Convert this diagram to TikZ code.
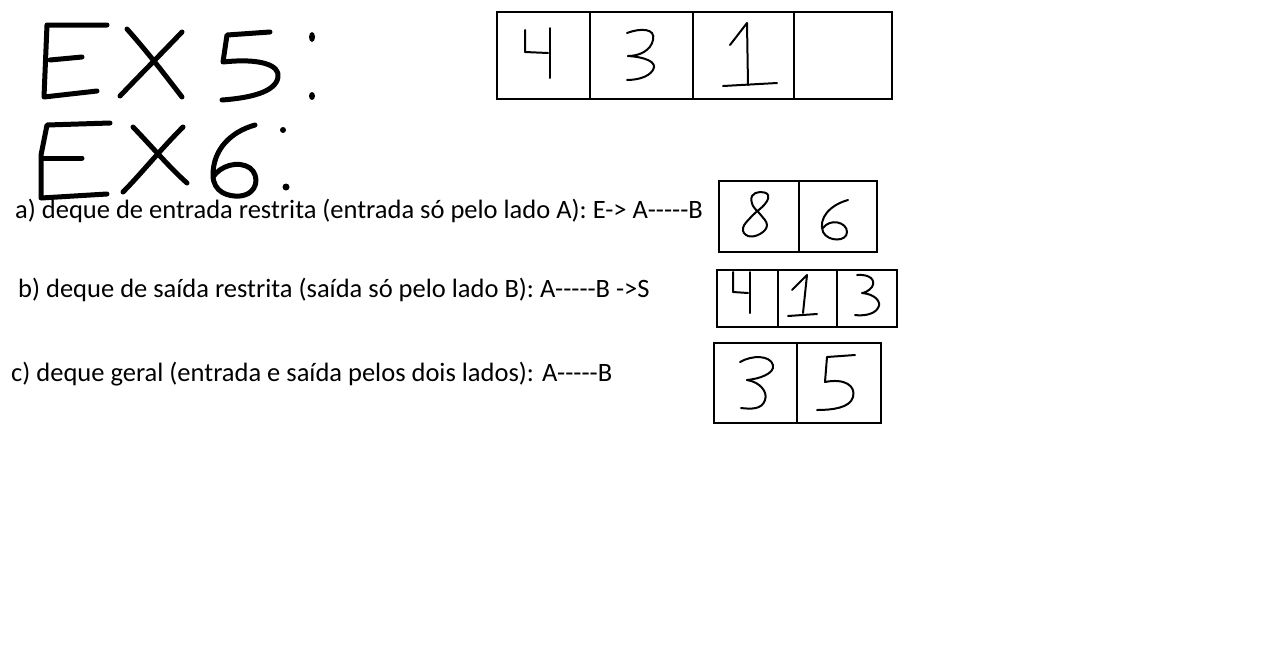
\documentclass[tikz,border=0pt]{standalone}
\usepackage{fontspec}
\setmainfont{Carlito}
\newcommand{\fivedash}{-{}-{}-{}-{}-}
\begin{document}
\begin{tikzpicture}[x=1pt,y=-1pt,
  cell/.style={draw=black,line width=2pt},
  hand/.style={draw=black,line width=2pt,line cap=round,line join=round},
  thick hand/.style={draw=black,line width=5pt,line cap=round,line join=round},
  label/.style={anchor=base west,inner sep=0pt,font=\fontsize{26.5pt}{30pt}\selectfont}]
\useasboundingbox[fill=white] (0,0) rectangle (1280,657);
% ---- handwritten EX5 ----
\path[thick hand] (107,25) -- (47,25) -- (44,97) -- (97,91);
\path[thick hand] (50,60) -- (82,57);
\path[thick hand] (127,29) .. controls (150,55) and (165,75) .. (182,97);
\path[thick hand] (182,32) .. controls (160,55) and (140,75) .. (120,96);
\path[thick hand] (270,32) -- (227,35) -- (223,62) .. controls (260,58) and (280,65) .. (278,77) .. controls (276,92) and (250,98) .. (222,100);
\fill (312,37) ellipse (3pt and 5pt);
\fill (312,96) ellipse (3pt and 4pt);
% ---- handwritten EX6 ----
\path[thick hand] (110,123) -- (47,125) -- (41,155) -- (41,198) -- (107,194);
\path[thick hand] (42,158) -- (82,158);
\path[thick hand] (133,127) .. controls (155,150) and (170,168) .. (187,183);
\path[thick hand] (183,127) .. controls (160,150) and (140,175) .. (123,192);
\path[thick hand] (255,125) .. controls (230,132) and (213,150) .. (213,175) .. controls (213,192) and (228,197) .. (240,196) .. controls (258,194) and (260,176) .. (250,168) .. controls (238,160) and (220,166) .. (213,177);
\fill (283,130) circle (3pt);
\fill (286,187) circle (3.5pt);
% ---- top box ----
\draw[cell] (497,12) rectangle (892,99);
\draw[cell] (590,12) -- (590,99);
\draw[cell] (693,12) -- (693,99);
\draw[cell] (794,12) -- (794,99);
\path[hand] (525,30) -- (525,52) -- (548,53);
\path[hand] (550,28) -- (550,78);
\path[hand] (627,33) .. controls (640,28) and (656,28) .. (653,40) .. controls (651,50) and (640,56) .. (628,56);
\path[hand] (628,56) .. controls (645,57) and (658,62) .. (653,70) .. controls (648,78) and (635,80) .. (627,80);
\path[hand] (730,45) -- (747,23) -- (748,85);
\path[hand] (723,86) -- (777,83);
% ---- box a ----
\draw[cell] (719,181) rectangle (877,252);
\draw[cell] (799,181) -- (799,252);
\draw[hand] plot[smooth cycle,tension=0.7] coordinates {(768,195) (760,192) (752,196) (753,206) (760,214) (767,225) (760,234) (748,236) (743,228) (752,216) (765,204)};
\path[hand] (848,200) .. controls (830,205) and (818,218) .. (823,232) .. controls (828,242) and (847,242) .. (847,232) .. controls (847,222) and (830,218) .. (823,228);
% ---- box b ----
\draw[cell] (717,270) rectangle (897,327);
\draw[cell] (778,270) -- (778,327);
\draw[cell] (837,270) -- (837,327);
\path[hand] (733,272) -- (733,292) -- (748,293);
\path[hand] (750,272) -- (750,313);
\path[hand] (792,290) -- (807,275) -- (803,313);
\path[hand] (788,316) -- (817,314);
\path[hand] (857,275) .. controls (870,274) and (876,280) .. (872,287) .. controls (869,291) and (864,293) .. (862,293) .. controls (875,294) and (882,302) .. (878,308) .. controls (874,315) and (862,316) .. (855,315);
% ---- box c ----
\draw[cell] (714,343) rectangle (881,423);
\draw[cell] (797,343) -- (797,423);
\path[hand] (740,362) .. controls (752,355) and (770,355) .. (773,365) .. controls (775,374) and (758,379) .. (747,380);
\path[hand] (747,380) .. controls (760,382) and (768,392) .. (765,400) .. controls (762,410) and (750,409) .. (741,408);
\path[hand] (855,355) -- (827,357) -- (825,382) .. controls (845,378) and (856,386) .. (853,397) .. controls (850,408) and (832,410) .. (817,410);
% ---- text ----
\node[label] (ta) at (15,218) {a) deque de entrada restrita (entrada só pelo lado A): E-> A\fivedash B};
\node[label] (tb) at (18,297) {b) deque de saída restrita (saída só pelo lado B): A\fivedash B ->S};
\node[label] (tc) at (11,381) {c) deque geral (entrada e saída pelos dois lados): A\fivedash B};
\end{tikzpicture}
\end{document}
